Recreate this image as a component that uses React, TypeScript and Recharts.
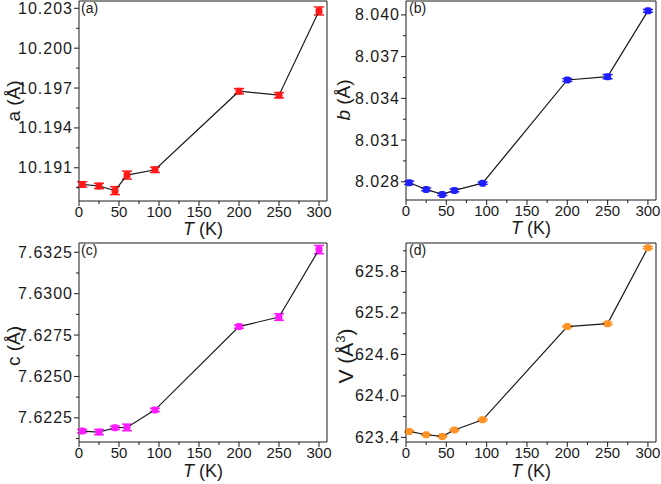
import { ErrorBar, Line, LineChart, ReferenceLine, XAxis, YAxis } from "recharts"

const FONT = "Arial, 'Liberation Sans', sans-serif"
const INK = "#1a1a1a"

const temperatures = [4, 25, 45, 60, 95, 200, 250, 300]

const aValues = [10.18975, 10.18963, 10.18928, 10.19045, 10.19085, 10.19676, 10.19646, 10.2028]
const aErrors = [0.0002, 0.0002, 0.0003, 0.0003, 0.0002, 0.0002, 0.0002, 0.0003]

const bValues = [8.02793, 8.02745, 8.02709, 8.02738, 8.0279, 8.03532, 8.03556, 8.04029]
const bErrors = [0.00012, 0.0001, 0.00008, 0.0001, 0.00008, 0.0001, 0.00015, 0.0001]

const cValues = [7.6217, 7.62164, 7.6219, 7.62192, 7.62298, 7.62801, 7.62859, 7.63266]
const cErrors = [0.0001, 0.00016, 0.0001, 0.0002, 0.0001, 0.0001, 0.0002, 0.00025]

const vValues = [623.486, 623.438, 623.414, 623.506, 623.654, 625.003, 625.046, 626.146]
const vErrors = [0.012, 0.01, 0.01, 0.012, 0.012, 0.012, 0.015, 0.015]

const tempMajorTicks = [0, 50, 100, 150, 200, 250, 300]
const tempMinorTicks = [25, 75, 125, 175, 225, 275]

const aMajorTicks = [10.191, 10.194, 10.197, 10.2, 10.203]
const aMinorTicks = [10.1895, 10.1925, 10.1955, 10.1985, 10.2015]
const bMajorTicks = [8.028, 8.031, 8.034, 8.037, 8.04]
const bMinorTicks = [8.0295, 8.0325, 8.0355, 8.0385]
const cMajorTicks = [7.6225, 7.625, 7.6275, 7.63, 7.6325]
const cMinorTicks = [7.62125, 7.62375, 7.62625, 7.62875, 7.63125]
const vMajorTicks = [623.4, 624.0, 624.6, 625.2, 625.8]
const vMinorTicks = [623.7, 624.3, 624.9, 625.5, 626.1]

const T_DOMAIN: [number, number] = [0, 310]

const isMajor = (list: number[], v: number) => list.some((m) => Math.abs(m - v) < 1e-9)

type PanelProps = {
	left: number
	top: number
	width: number
	height: number
	yAxisWidth: number
	xAxisHeight: number
	marginTop: number
	marginRight: number
	values: number[]
	errors: number[]
	color: string
	yDomain: [number, number]
	yMajor: number[]
	yMinor: number[]
	decimals: number
}

function Panel({
	left,
	top,
	width,
	height,
	yAxisWidth,
	xAxisHeight,
	marginTop,
	marginRight,
	values,
	errors,
	color,
	yDomain,
	yMajor,
	yMinor,
	decimals,
}: PanelProps) {
	const data = temperatures.map((t, i) => ({ t, v: values[i], err: errors[i] }))

	const renderXTick = (props: any) => {
		const { x, y, payload } = props
		const major = isMajor(tempMajorTicks, payload.value)
		return (
			<g>
				<line x1={x} x2={x} y1={y} y2={y + (major ? 5 : 3)} stroke={INK} strokeWidth={1} />
				{major && (
					<text x={x} y={y + 16} textAnchor="middle" fontSize={15} fontFamily={FONT} fill={INK}>
						{payload.value}
					</text>
				)}
			</g>
		)
	}

	const renderYTick = (props: any) => {
		const { x, y, payload } = props
		const major = isMajor(yMajor, payload.value)
		return (
			<g>
				<line x1={x} x2={x - (major ? 5 : 3)} y1={y} y2={y} stroke={INK} strokeWidth={1} />
				{major && (
					<text
						x={x - 6}
						y={y + 5.5}
						textAnchor="end"
						fontSize={16}
						letterSpacing={1}
						fontFamily={FONT}
						fill={INK}
					>
						{payload.value.toFixed(decimals)}
					</text>
				)}
			</g>
		)
	}

	const renderDot = (props: any) => (
		<rect
			key={`dot-${props.index}`}
			x={props.cx - 3.5}
			y={props.cy - 3.5}
			width={7}
			height={7}
			rx={2.2}
			fill={color}
		/>
	)

	return (
		<div style={{ position: "absolute", left, top }}>
			<LineChart
				width={width}
				height={height}
				data={data}
				margin={{ top: marginTop, right: marginRight, left: 0, bottom: 0 }}
			>
				<XAxis
					type="number"
					dataKey="t"
					domain={T_DOMAIN}
					allowDataOverflow
					ticks={[...tempMajorTicks, ...tempMinorTicks]}
					interval={0}
					tickSize={0}
					tickMargin={0}
					tick={renderXTick}
					tickLine={false}
					height={xAxisHeight}
					axisLine={{ stroke: INK }}
				/>
				<YAxis
					type="number"
					domain={yDomain}
					allowDataOverflow
					ticks={[...yMajor, ...yMinor]}
					interval={0}
					tickSize={0}
					tickMargin={0}
					tick={renderYTick}
					tickLine={false}
					width={yAxisWidth}
					axisLine={{ stroke: INK }}
				/>
				<ReferenceLine x={T_DOMAIN[1]} stroke={INK} strokeWidth={1} ifOverflow="visible" />
				<ReferenceLine y={yDomain[1]} stroke={INK} strokeWidth={1} ifOverflow="visible" />
				<Line
					type="linear"
					dataKey="v"
					stroke={INK}
					strokeWidth={1.2}
					dot={renderDot}
					activeDot={false}
					isAnimationActive={false}
				>
					<ErrorBar dataKey="err" width={5} stroke={color} strokeWidth={1.5} isAnimationActive={false} />
				</Line>
			</LineChart>
		</div>
	)
}

function TTitle({ x, y }: { x: number; y: number }) {
	return (
		<text x={x} y={y} textAnchor="middle" fontSize={18} fontFamily={FONT} fill={INK}>
			<tspan fontStyle="italic">T</tspan> (K)
		</text>
	)
}

export default function App() {
	return (
		<div style={{ position: "absolute", left: 0, top: 0, width: 661, height: 484, background: "#fff" }}>
			<style>{".recharts-surface { overflow: visible; }"}</style>
			<Panel
				left={0}
				top={0}
				width={330}
				height={242}
				yAxisWidth={79}
				xAxisHeight={41}
				marginTop={1}
				marginRight={3}
				values={aValues}
				errors={aErrors}
				color="#ff1a1a"
				yDomain={[10.1885, 10.20355]}
				yMajor={aMajorTicks}
				yMinor={aMinorTicks}
				decimals={3}
			/>
			<Panel
				left={330}
				top={0}
				width={331}
				height={242}
				yAxisWidth={76}
				xAxisHeight={42}
				marginTop={1}
				marginRight={5}
				values={bValues}
				errors={bErrors}
				color="#1e1eff"
				yDomain={[8.02669, 8.041]}
				yMajor={bMajorTicks}
				yMinor={bMinorTicks}
				decimals={3}
			/>
			<Panel
				left={0}
				top={242}
				width={330}
				height={242}
				yAxisWidth={79}
				xAxisHeight={42}
				marginTop={1}
				marginRight={3}
				values={cValues}
				errors={cErrors}
				color="#ff1aff"
				yDomain={[7.62104, 7.63306]}
				yMajor={cMajorTicks}
				yMinor={cMinorTicks}
				decimals={4}
			/>
			<Panel
				left={330}
				top={242}
				width={331}
				height={242}
				yAxisWidth={76}
				xAxisHeight={42}
				marginTop={1}
				marginRight={5}
				values={vValues}
				errors={vErrors}
				color="#ff9326"
				yDomain={[623.333, 626.213]}
				yMajor={vMajorTicks}
				yMinor={vMinorTicks}
				decimals={1}
			/>
			<svg
				width={661}
				height={484}
				style={{ position: "absolute", left: 0, top: 0, pointerEvents: "none" }}
			>
				<text x={81} y={13} fontSize={14} fontFamily={FONT} fill={INK}>(a)</text>
				<text x={409} y={13} fontSize={14} fontFamily={FONT} fill={INK}>(b)</text>
				<text x={81} y={255} fontSize={14} fontFamily={FONT} fill={INK}>(c)</text>
				<text x={409} y={255} fontSize={14} fontFamily={FONT} fill={INK}>(d)</text>

				<text transform="translate(20,101) rotate(-90)" textAnchor="middle" fontSize={19} fontFamily={FONT} fill={INK}>
					a (Å)
				</text>
				<text transform="translate(350,100) rotate(-90)" textAnchor="middle" fontSize={19} fontFamily={FONT} fill={INK}>
					<tspan fontStyle="italic">b</tspan> (Å)
				</text>
				<text transform="translate(20,346) rotate(-90)" textAnchor="middle" fontSize={19} fontFamily={FONT} fill={INK}>
					c (Å)
				</text>
				<text transform="translate(353,356) rotate(-90)" textAnchor="middle" fontSize={21} fontFamily={FONT} fill={INK}>
					V (Å<tspan fontSize={13} dy={-8}>3</tspan><tspan dy={8}>)</tspan>
				</text>

				<TTitle x={203} y={235} />
				<TTitle x={531} y={234} />
				<TTitle x={203} y={477} />
				<TTitle x={531} y={477} />
			</svg>
		</div>
	)
}
